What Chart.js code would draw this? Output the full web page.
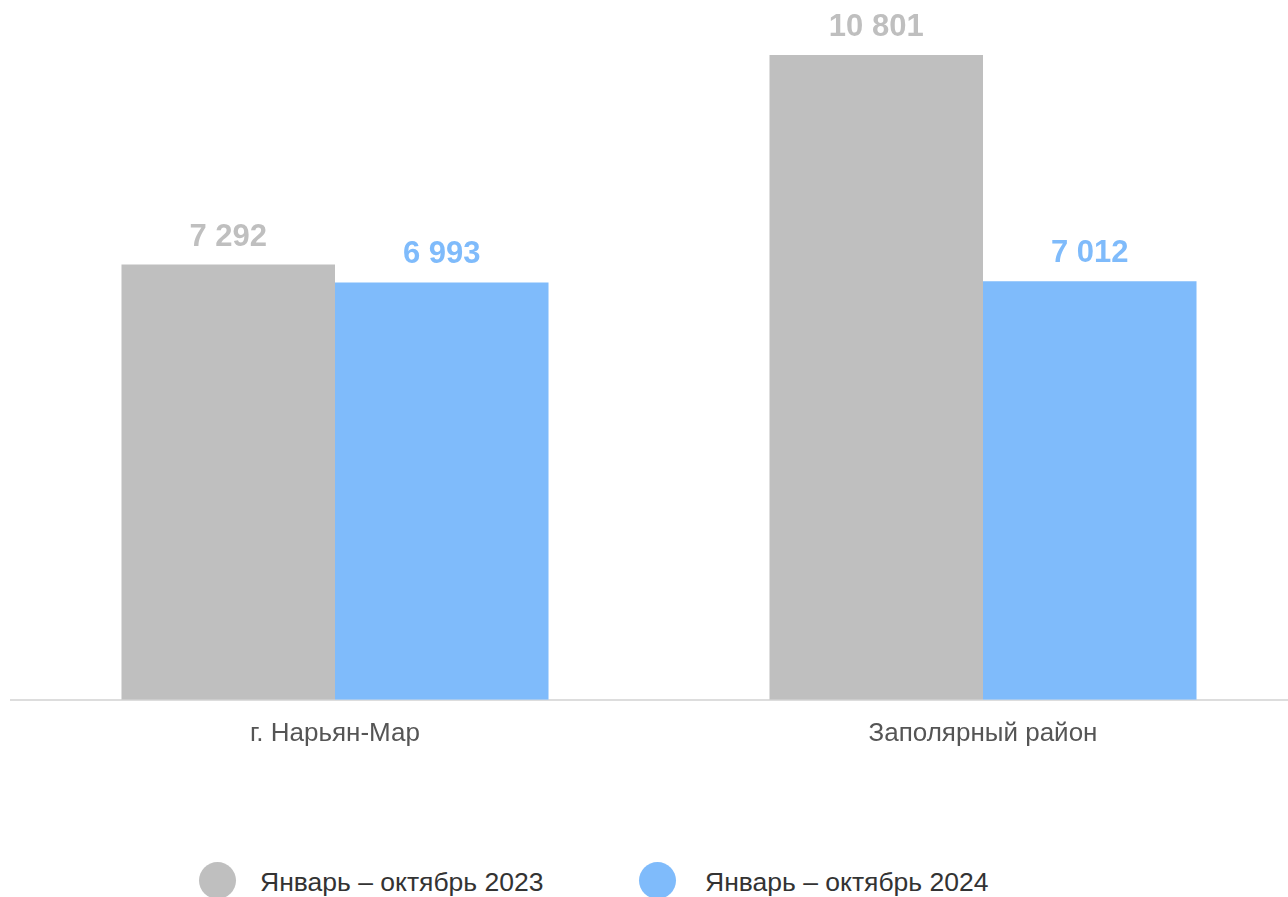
<!DOCTYPE html>
<html>
<head>
<meta charset="utf-8">
<script src="https://cdn.jsdelivr.net/npm/chart.js@4/dist/chart.umd.min.js"></script>
<style>
  html, body { margin: 0; padding: 0; background: #fff; overflow: hidden; width: 1288px; height: 897px; }
  #wrap { position: absolute; left: 0; top: 0; width: 1310px; height: 767px; }
  .legend { position: absolute; top: 862px; font-family: "Liberation Sans", Arial, sans-serif; font-size: 26.5px; color: #333; }
  .legend .dot { position: absolute; width: 37px; height: 37px; border-radius: 50%; top: 0; }
  .legend .txt { position: absolute; top: 5px; white-space: nowrap; }
</style>
</head>
<body>
<div id="wrap"><canvas id="barChart"></canvas></div>
<div class="legend" id="legend"></div>
<script>
document.addEventListener("DOMContentLoaded", function() {
  // Data
  var categories = ["г. Нарьян-Мар", "Заполярный район"];
  var seriesNames = ["Январь – октябрь 2023", "Январь – октябрь 2024"];
  var values2023 = [7292, 10801];
  var values2024 = [6993, 7012];
  var colors = ["#bfbfbf", "#7fbbfb"];
  var labelColors = ["#bfbfbf", "#7fbbfb"];
  var yMax = 11724;

  function fmt(v) {
    return String(v).replace(/\B(?=(\d{3})+(?!\d))/g, " ");
  }

  // value labels above bars
  var valueLabels = {
    id: "valueLabels",
    afterDatasetsDraw: function(chart) {
      var ctx = chart.ctx;
      ctx.save();
      ctx.font = "bold 31px 'Liberation Sans', Arial, sans-serif";
      ctx.textAlign = "center";
      ctx.textBaseline = "alphabetic";
      chart.data.datasets.forEach(function(ds, i) {
        var meta = chart.getDatasetMeta(i);
        ctx.fillStyle = labelColors[i];
        meta.data.forEach(function(bar, j) {
          ctx.fillText(fmt(ds.data[j]), bar.x, bar.y - 19);
        });
      });
      ctx.restore();
    }
  };

  var data = {
    labels: categories,
    datasets: [
      { label: seriesNames[0], data: values2023, backgroundColor: colors[0] },
      { label: seriesNames[1], data: values2024, backgroundColor: colors[1] }
    ]
  };

  var config = {
    type: "bar",
    data: data,
    options: {
      responsive: true,
      maintainAspectRatio: false,
      animation: false,
      layout: { padding: { left: 11, right: 3, top: 0, bottom: 0 } },
      datasets: { bar: { categoryPercentage: 0.659, barPercentage: 1 } },
      plugins: { legend: { display: false }, tooltip: { enabled: false } },
      scales: {
        x: {
          grid: { display: false, drawTicks: false },
          border: { display: true, color: "#dddddd", width: 2 },
          ticks: {
            padding: 18,
            color: "#555555",
            font: { family: "'Liberation Sans', Arial, sans-serif", size: 26 }
          }
        },
        y: { display: false, min: 0, max: yMax }
      }
    },
    plugins: [valueLabels]
  };

  var ctx = document.getElementById("barChart").getContext("2d");
  new Chart(ctx, config);

  // HTML legend
  var legend = document.getElementById("legend");
  var dotX = [199, 639];
  var txtX = [260, 705];
  seriesNames.forEach(function(name, i) {
    var d = document.createElement("div");
    d.className = "dot";
    d.style.left = dotX[i] + "px";
    d.style.background = colors[i];
    legend.appendChild(d);
    var t = document.createElement("div");
    t.className = "txt";
    t.style.left = txtX[i] + "px";
    t.textContent = name;
    legend.appendChild(t);
  });
});
</script>
</body>
</html>
